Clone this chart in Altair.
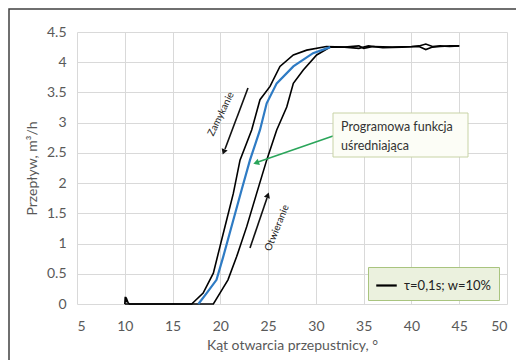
import altair as alt
import pandas as pd

# Opening (otwieranie) branch, angle -> flow
open_x = [10.0, 10.05, 10.12, 10.2, 10.35, 10.5, 12, 15, 17, 18.5, 19.27, 19.96, 20.8, 21.7, 22.76, 23.8,
          24.85, 25.9, 26.95, 27.64, 28.68, 30.08, 31.5, 33, 34.5, 35, 36, 38, 40, 40.8, 41.5, 42.2, 43, 44, 45]
open_y = [0.0, 0.12, 0.03, 0.08, 0.02, 0.0, 0.0, 0.0, 0.0, 0.0, 0.0, 0.18, 0.4, 0.78, 1.28, 1.83,
          2.38, 2.88, 3.26, 3.65, 3.87, 4.12, 4.25, 4.25, 4.27, 4.23, 4.26, 4.25, 4.26, 4.27, 4.3, 4.26, 4.27, 4.26, 4.27]

# Closing (zamykanie) branch, traversed from 45 back to 10
close_x = [45, 44, 43, 42.2, 41.5, 40.8, 39, 37, 35.5, 34.5, 33, 31.1, 29.04, 27.64, 26.24, 25.2,
           24.15, 23.28, 22.06, 21.36, 20.66, 19.96, 19.27, 18.2, 17, 15, 12, 10]
close_y = [4.27, 4.27, 4.26, 4.25, 4.21, 4.26, 4.25, 4.24, 4.27, 4.23, 4.25, 4.26, 4.2, 4.12, 3.93, 3.6,
           3.38, 2.88, 2.38, 1.83, 1.39, 0.95, 0.51, 0.18, 0.0, 0.0, 0.0, 0.0]

# Programmatic averaging function (blue)
avg_x = [17.7, 18.57, 19.6, 20.3, 21.36, 22.23, 23.1, 24.15, 24.85, 25.9, 27.64, 29.7, 31.5]
avg_y = [0.0, 0.18, 0.4, 0.78, 1.39, 1.89, 2.38, 2.88, 3.32, 3.65, 3.93, 4.15, 4.25]

series_label = "τ=0,1s; w=10%"
x_ticks = [5, 10, 15, 20, 25, 30, 35, 40, 45, 50]
y_ticks = [0, 0.5, 1, 1.5, 2, 2.5, 3, 3.5, 4, 4.5]

FONT = "Lato"
GRAY = "#595959"

rows = []
for i, (x, y) in enumerate(zip(open_x, open_y)):
    rows.append({"x": x, "y": y, "branch": "open", "order": i, "label": series_label})
for i, (x, y) in enumerate(zip(close_x, close_y)):
    rows.append({"x": x, "y": y, "branch": "close", "order": i, "label": series_label})
df = pd.DataFrame(rows)
avg_df = pd.DataFrame({"x": avg_x, "y": avg_y, "order": list(range(len(avg_x)))})
one = pd.DataFrame({"d": [0]})

W, H = 430, 272

xscale = alt.Scale(domain=[5, 50], nice=False, zero=False)
yscale = alt.Scale(domain=[0, 4.5], nice=False)

xaxis = alt.Axis(values=x_ticks, title="Kąt otwarcia przepustnicy, °", labelPadding=15, titlePadding=5,
                 grid=True, gridColor="#d9d9d9", domain=False, ticks=False, labelFont=FONT, labelFontSize=14,
                 labelColor=GRAY, titleFont=FONT, titleFontSize=14, titleColor=GRAY, titleFontWeight="normal",
                 labelOverlap=False)
yaxis = alt.Axis(values=y_ticks, format="~g", title="Przepływ, m³/h", labelPadding=11, titlePadding=7,
                 grid=True, gridColor="#d9d9d9", domain=False, ticks=False, labelFont=FONT, labelFontSize=14,
                 labelColor=GRAY, titleFont=FONT, titleFontSize=14, titleColor=GRAY, titleFontWeight="normal",
                 labelOverlap=False, tickCount=10)

frame = alt.Chart(one).mark_rect(fill=None, stroke="#404040", strokeWidth=1.5).encode(
    x=alt.value(-68), x2=alt.value(445), y=alt.value(-23), y2=alt.value(345))

lines = alt.Chart(df).mark_line(strokeWidth=1.6, interpolate="linear").encode(
    x=alt.X("x:Q", scale=xscale, axis=xaxis),
    y=alt.Y("y:Q", scale=yscale, axis=yaxis),
    detail="branch:N",
    order="order:Q",
    color=alt.Color("label:N", scale=alt.Scale(domain=[series_label], range=["#000000"]),
                    legend=alt.Legend(title=None, orient="none", legendX=291, legendY=235,
                                      fillColor="#ebf1de", strokeColor="#a9c47f", padding=7,
                                      symbolType="stroke", symbolSize=420, symbolStrokeWidth=2.2,
                                      symbolStrokeColor="#000000", labelFont=FONT, labelFontSize=13,
                                      labelColor="#222222", labelOffset=6)),
)

avg = alt.Chart(avg_df).mark_line(strokeWidth=2.2, color="#2e7bc4").encode(
    x=alt.X("x:Q", scale=xscale, axis=xaxis), y=alt.Y("y:Q", scale=yscale, axis=yaxis), order="order:Q")

# annotation box
box = alt.Chart(one).mark_rect(fill="#fcfdf6", stroke="#c8d3a6", strokeWidth=1).encode(
    x=alt.value(256), x2=alt.value(391), y=alt.value(81), y2=alt.value(125))
box_t1 = alt.Chart(one).mark_text(align="left", baseline="middle", font=FONT, fontSize=12.5, color="#333333").encode(
    x=alt.value(264), y=alt.value(95), text=alt.value("Programowa funkcja"))
box_t2 = alt.Chart(one).mark_text(align="left", baseline="middle", font=FONT, fontSize=12.5, color="#333333").encode(
    x=alt.value(264), y=alt.value(114), text=alt.value("uśredniająca"))

# green arrow
g_line = alt.Chart(one).mark_rule(color="#2aa55a", strokeWidth=1.6).encode(
    x=alt.value(256), y=alt.value(104), x2=alt.value(181), y2=alt.value(130))
g_head = alt.Chart(one).mark_point(shape="triangle", filled=True, color="#2aa55a", size=45, angle=251, opacity=1).encode(
    x=alt.value(180), y=alt.value(130.5))

# Zamykanie arrow
z_line = alt.Chart(one).mark_rule(color="#111111", strokeWidth=1.6).encode(
    x=alt.value(171), y=alt.value(56), x2=alt.value(148), y2=alt.value(117))
z_head = alt.Chart(one).mark_point(shape="triangle", filled=True, color="#111111", size=40, angle=201, opacity=1).encode(
    x=alt.value(147), y=alt.value(119))
z_text = alt.Chart(one).mark_text(font=FONT, fontSize=10, color="#222222", angle=296, align="center", baseline="middle").encode(
    x=alt.value(144), y=alt.value(82), text=alt.value("Zamykanie"))

# Otwieranie arrow
o_line = alt.Chart(one).mark_rule(color="#111111", strokeWidth=1.6).encode(
    x=alt.value(173), y=alt.value(216), x2=alt.value(190), y2=alt.value(166))
o_head = alt.Chart(one).mark_point(shape="triangle", filled=True, color="#111111", size=40, angle=19, opacity=1).encode(
    x=alt.value(190.5), y=alt.value(164))
o_text = alt.Chart(one).mark_text(font=FONT, fontSize=10, color="#222222", angle=292, align="center", baseline="middle").encode(
    x=alt.value(200), y=alt.value(196), text=alt.value("Otwieranie"))

chart = alt.layer(frame, lines, avg, g_line, g_head, box, box_t1, box_t2,
                  z_line, z_head, z_text, o_line, o_head, o_text).properties(
    width=W, height=H,
    autosize=alt.AutoSizeParams(type="none"),
    padding={"left": 77, "top": 32, "right": 9, "bottom": 56},
    background="white",
).configure_view(stroke=None)

chart.save("out.html", embed_options={"renderer": "svg", "actions": False})
